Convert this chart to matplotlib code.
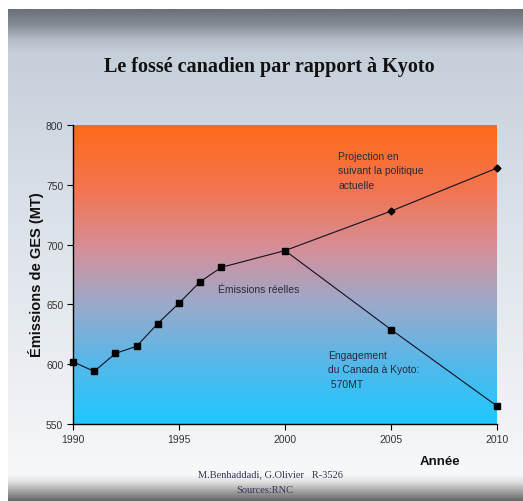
import numpy as np
import matplotlib.pyplot as plt
from matplotlib.colors import LinearSegmentedColormap

# emissions data (Mt CO2 eq.)
years_real = [1990, 1991, 1992, 1993, 1994, 1995, 1996, 1997, 2000]
ges_real = [602, 594, 609, 615, 634, 651, 669, 681, 695]
years_proj = [2000, 2005, 2010]
ges_proj = [695, 728, 764]
years_kyoto = [2000, 2005, 2010]
ges_kyoto = [695, 629, 565]

W, H = 523, 502
fig = plt.figure(figsize=(W / 100, H / 100), dpi=100)
fig.patch.set_facecolor('white')

# slide background
bg = fig.add_axes([8 / W, 0, 1 - 8 / W, 1 - 10 / H], zorder=0)
bg_cmap = LinearSegmentedColormap.from_list('bg', [
    (0.00, '#6c7078'), (0.03, '#858c95'), (0.06, '#b5bfc9'), (0.09, '#c6d0da'),
    (0.45, '#dde3ea'), (0.95, '#f6f8fa'), (0.965, '#dedede'),
    (1.00, '#6a6a6a')])
grad = np.linspace(0, 1, 500).reshape(-1, 1)
bg.imshow(grad, aspect='auto', cmap=bg_cmap, extent=[0, 1, 0, 1])
bg.axis('off')

ax = fig.add_axes([73 / W, 1 - 425 / H, 424 / W, 299 / H], zorder=2)
ax.set_xlim(1990, 2010)
ax.set_ylim(550, 800)

# plot area gradient
plot_cmap = LinearSegmentedColormap.from_list('plot', [
    (0.00, '#1ec8ff'), (0.20, '#55b8ea'), (0.40, '#9aaacb'),
    (0.58, '#d4909c'), (0.78, '#f27552'), (1.00, '#ff6a1a')])
ax.imshow(np.linspace(0, 1, 300).reshape(-1, 1), aspect='auto', cmap=plot_cmap,
          origin='lower', extent=[1990, 2010, 550, 800], zorder=0)

ax.plot(years_real, ges_real, color='#111122', lw=0.8, marker='s', ms=5,
        mfc='black', mec='black', zorder=3, clip_on=False)
ax.plot(years_proj, ges_proj, color='#111122', lw=0.8, marker='D', ms=3.5,
        mfc='black', mec='black', markevery=[1, 2], zorder=3, clip_on=False)
ax.plot(years_kyoto, ges_kyoto, color='#111122', lw=0.8, marker='s', ms=5,
        mfc='black', mec='black', markevery=[1, 2], zorder=3, clip_on=False)

txt = dict(family='Liberation Sans', fontsize=7.5, color='#2a2a3a',
           linespacing=1.55, va='top', ha='left')
ax.text(2002.5, 778.5, 'Projection en\nsuivant la politique\nactuelle', **txt)
ax.text(1996.85, 667, 'Émissions réelles', **txt)
ax.text(2002.05, 612, 'Engagement\ndu Canada à Kyoto:\n 570MT', **txt)

ax.set_xticks([1990, 1995, 2000, 2005, 2010])
ax.set_yticks([550, 600, 650, 700, 750, 800])
ax.tick_params(direction='out', length=4, width=0.8, labelsize=7.5,
               labelcolor='#333333', color='black', pad=3)
for lab in ax.get_xticklabels() + ax.get_yticklabels():
    lab.set_family('Liberation Sans')
for s in ['top', 'right']:
    ax.spines[s].set_visible(False)
for s in ['left', 'bottom']:
    ax.spines[s].set_linewidth(1.0)
    ax.spines[s].set_color('black')

fig.text(269 / W, 1 - 67 / H, 'Le fossé canadien par rapport à Kyoto',
         family='Liberation Serif', fontweight='bold', fontsize=14.5,
         ha='center', va='center', color='#111111', zorder=3)
fig.text(36 / W, 1 - 275 / H, 'Émissions de GES (MT)', family='Liberation Sans',
         fontweight='bold', fontsize=10.5, rotation=90, ha='center', va='center',
         color='#111111', zorder=3)
fig.text(440 / W, 1 - 462 / H, 'Année', family='Liberation Sans',
         fontweight='bold', fontsize=9.5, ha='center', va='center',
         color='#111111', zorder=3)
fig.text(270 / W, 1 - 475 / H, 'M.Benhaddadi, G.Olivier   R-3526',
         family='Liberation Serif', fontsize=7.5, ha='center', va='center',
         color='#333355', zorder=3)
fig.text(265 / W, 1 - 491 / H, 'Sources:RNC', family='Liberation Serif',
         fontsize=7.5, ha='center', va='center', color='#333355', zorder=3)

fig.savefig('out.png', dpi=100)
